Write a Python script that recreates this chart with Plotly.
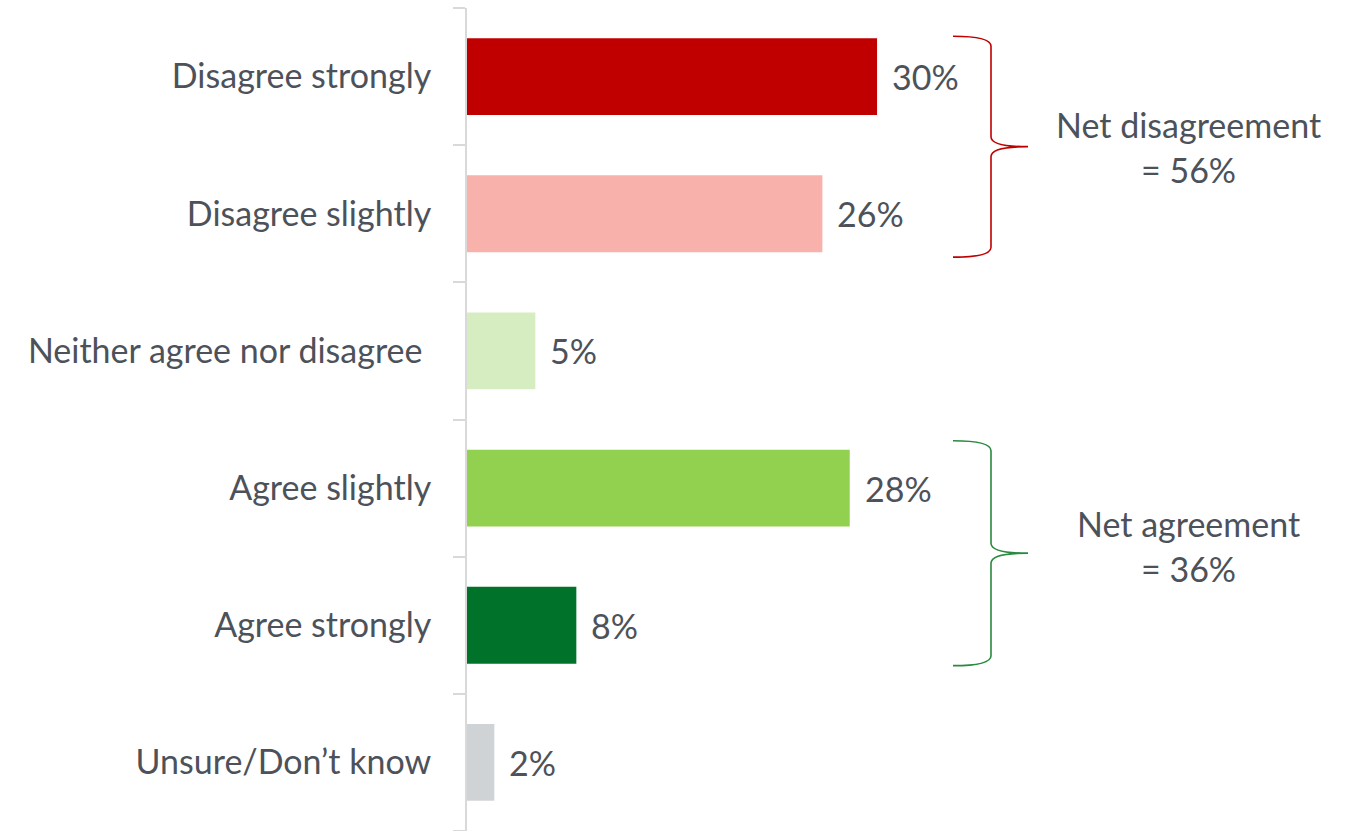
import plotly.graph_objects as go

# Survey responses, top to bottom
categories = [
    "Disagree strongly",
    "Disagree slightly",
    "Neither agree nor disagree ",
    "Agree slightly",
    "Agree strongly",
    "Unsure/Don\u2019t know",
]
values = [30, 26, 5, 28, 8, 2]
bar_colors = ["#C00000", "#F9B1AB", "#D6EDC2", "#92D050", "#00722A", "#D0D3D6"]

disagree_idx = [0, 1]
agree_idx = [3, 4]

TEXT_COLOR = "#4D525A"
FONT = "Lato"
FONT_SIZE = 34

# Figure geometry (pixels)
W, H = 1350, 831
M_L, M_R, M_T, M_B = 467, 0, 8, 0
PLOT_W = W - M_L - M_R
PLOT_H = H - M_T - M_B
X_MAX = 64.6
BAR_WIDTH = 0.56


def px_to_paper(px, py):
    return (px - M_L) / PLOT_W, (H - M_B - py) / PLOT_H


def band_px(i):
    """Top/bottom pixel of bar i (0 = top category)."""
    band = PLOT_H / len(categories)
    c = M_T + (i + 0.5) * band
    return c - BAR_WIDTH * band / 2, c + BAR_WIDTH * band / 2


def brace_path(x_arm, x_v, x_tip, y_top, y_bot):
    ym = (y_top + y_bot) / 2
    r = 10
    pts = [
        ("M", [(x_arm, y_top)]),
        ("Q", [(x_v, y_top), (x_v, y_top + r)]),
        ("L", [(x_v, ym - r)]),
        ("Q", [(x_v, ym), (x_tip, ym)]),
        ("M", [(x_tip, ym)]),
        ("Q", [(x_v, ym), (x_v, ym + r)]),
        ("L", [(x_v, y_bot - r)]),
        ("Q", [(x_v, y_bot), (x_arm, y_bot)]),
    ]
    out = []
    for cmd, coords in pts:
        s = " ".join("%.5f,%.5f" % px_to_paper(x, y) for x, y in coords)
        out.append(f"{cmd} {s}")
    return " ".join(out)


fig = go.Figure(
    go.Bar(
        x=values,
        y=categories,
        orientation="h",
        marker=dict(color=bar_colors, line=dict(width=0)),
        width=BAR_WIDTH,
        hoverinfo="skip",
    )
)

# Value labels next to bars
for cat, v in zip(categories, values):
    fig.add_annotation(
        x=v, y=cat, text=f"{v}%", xanchor="left", yanchor="middle",
        xshift=13, showarrow=False,
        font=dict(family=FONT, size=FONT_SIZE, color=TEXT_COLOR),
    )

# Net groups: braces and summary text
# (pad above / below the bars and text offset from the brace tip, in px)
groups = [
    (disagree_idx, "#C00000", "Net disagreement", 2, 5, -22),
    (agree_idx, "#2A8A3E", "Net agreement", 9, 2, -30),
]
for idx, color, label, pad_top, pad_bot, text_dy in groups:
    y_top = band_px(idx[0])[0] - pad_top
    y_bot = band_px(idx[-1])[1] + pad_bot
    fig.add_shape(
        type="path", xref="paper", yref="paper",
        path=brace_path(953, 991, 1028, y_top, y_bot),
        line=dict(color=color, width=1.6),
    )
    net = sum(values[i] for i in idx)
    ym = (y_top + y_bot) / 2
    tx, ty1 = px_to_paper(1188, ym + text_dy)
    _, ty2 = px_to_paper(1188, ym + text_dy + 45)
    fig.add_annotation(
        x=tx, y=ty1, xref="paper", yref="paper", text=label,
        showarrow=False, xanchor="center", yanchor="middle",
        font=dict(family=FONT, size=FONT_SIZE, color=TEXT_COLOR),
    )
    fig.add_annotation(
        x=tx, y=ty2, xref="paper", yref="paper", text=f"= {net}%",
        showarrow=False, xanchor="center", yanchor="middle",
        font=dict(family=FONT, size=FONT_SIZE, color=TEXT_COLOR),
    )

fig.update_layout(
    width=W, height=H,
    margin=dict(l=M_L, r=M_R, t=M_T, b=M_B, autoexpand=False),
    plot_bgcolor="white", paper_bgcolor="white",
    showlegend=False,
    xaxis=dict(range=[0, X_MAX], visible=False, fixedrange=True),
    yaxis=dict(
        categoryorder="array", categoryarray=categories[::-1],
        showline=True, linecolor="#D9D9D9", linewidth=2,
        ticks="outside", tickson="boundaries", ticklen=12,
        tickcolor="#D9D9D9", tickwidth=2,
        showgrid=False, zeroline=False,
        ticklabelstandoff=27,
        tickfont=dict(family=FONT, size=FONT_SIZE, color=TEXT_COLOR),
        fixedrange=True,
    ),
    bargap=1 - BAR_WIDTH,
)

fig.write_html("out.html")
